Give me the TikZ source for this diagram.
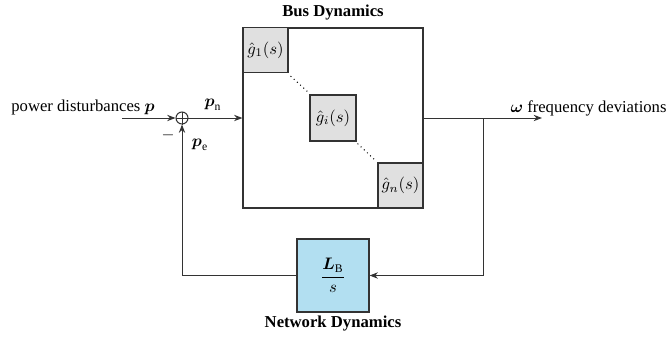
\documentclass[tikz,border=0pt]{standalone}
\usepackage{amsmath}
\usepackage{fontspec}
\setmainfont{Liberation Serif}
\usetikzlibrary{arrows.meta,calc}
\definecolor{linec}{gray}{0.2}
\definecolor{gfill}{RGB}{224,224,224}
\definecolor{bfill}{RGB}{178,223,241}
\begin{document}
\begin{tikzpicture}[x=0.6pt,y=-0.6pt,line width=0.6pt,
  >={Stealth[length=5pt,width=3.8pt]},
  every node/.style={font=\fontsize{10pt}{12pt}\selectfont},
  bigbox/.style={draw=linec,line width=0.7pt,fill=white,inner sep=0pt,minimum width=108pt,minimum height=108pt},
  gbox/.style={draw=linec,line width=0.7pt,fill=gfill,inner sep=0pt,minimum width=27pt,minimum height=27pt},
  netbox/.style={draw=linec,line width=0.7pt,fill=bfill,inner sep=0pt,minimum width=43.2pt,minimum height=43.8pt},
  sumnode/.style={draw=linec,circle,inner sep=0pt,minimum size=7.2pt},
  conn/.style={draw=linec,line width=0.6pt},
  lbl/.style={inner sep=0pt}]
\useasboundingbox (0,0) rectangle (668,341);
% blocks
\node[bigbox] (bus) at (333,118) {};
\node[gbox] (g1) at (265.5,50) {$\hat{g}_1(s)$};
\node[gbox,minimum width=27.6pt,minimum height=27.6pt] (gi) at (333,118) {$\hat{g}_i(s)$};
\node[gbox] (gn) at (400.5,185.5) {$\hat{g}_n(s)$};
\draw[dotted,line width=0.6pt] ($(g1.south east)+(2,3)$) -- ($(gi.north west)+(-1,-2)$);
\draw[dotted,line width=0.6pt] ($(gi.south east)+(1,2)$) -- ($(gn.north west)+(-1,-1)$);
\node[netbox] (net) at (333,275.5) {$\dfrac{\boldsymbol{L}_{\mathrm{B}}}{s}$};
\node[sumnode] (sum) at (182,118) {};
\draw[linec,line width=0.5pt] (sum.north) -- (sum.south) (sum.west) -- (sum.east);
% coordinates
\coordinate (in) at (122,118);
\coordinate (out) at (542,118);
\coordinate (br) at (483,118);
% connectors
\draw[conn,->] (in) -- (sum.west);
\draw[conn,->] (sum.east) -- (bus.west);
\draw[conn,->] (bus.east) -- (out);
\draw[conn,->] (br) |- (net.east);
\draw[conn,->] (net.west) -| (sum.south);
% labels
\node[lbl] (lin) at (83,107) {power disturbances $\boldsymbol{p}$};
\node[lbl] (lpn) at (213,105) {$\boldsymbol{p}_{\mathrm{n}}$};
\node[lbl] (lminus) at (168,135) {$-$};
\node[lbl] (lpe) at (200,145) {$\boldsymbol{p}_{\mathrm{e}}$};
\node[lbl,anchor=west] (lout) at (510,108) {$\boldsymbol{\omega}$ frequency deviations};
\node[lbl] (lbus) at (333,13) {\textbf{Bus Dynamics}};
\node[lbl] (lnet) at (333,324) {\textbf{Network Dynamics}};
\end{tikzpicture}
\end{document}
